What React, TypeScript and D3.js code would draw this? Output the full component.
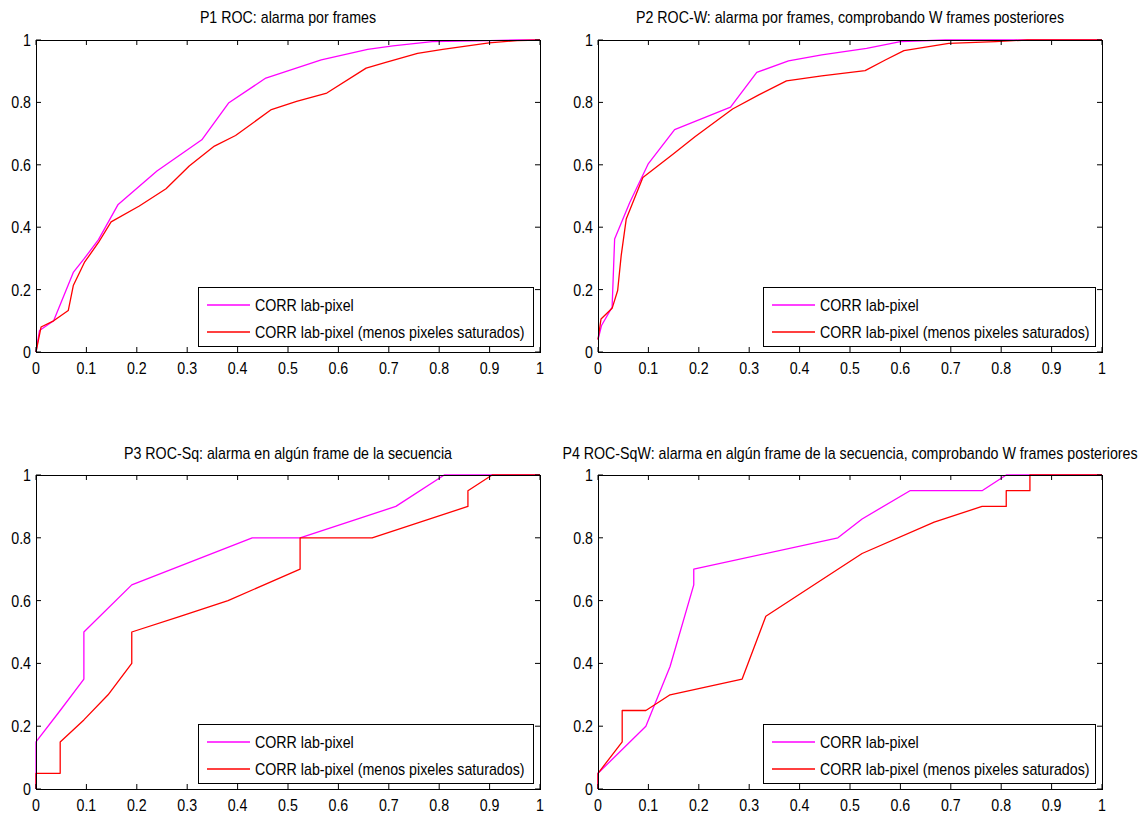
import React from "react";
import * as d3 from "d3";

// ---------- data ----------
const xTicks = [0, 0.1, 0.2, 0.3, 0.4, 0.5, 0.6, 0.7, 0.8, 0.9, 1];
const yTicks = [0, 0.2, 0.4, 0.6, 0.8, 1];
const xTickLabels = ["0", "0.1", "0.2", "0.3", "0.4", "0.5", "0.6", "0.7", "0.8", "0.9", "1"];
const yTickLabels = ["0", "0.2", "0.4", "0.6", "0.8", "1"];

const titles = [
  "P1 ROC: alarma por frames",
  "P2 ROC-W: alarma por frames, comprobando W frames posteriores",
  "P3 ROC-Sq: alarma en algún frame de la secuencia",
  "P4 ROC-SqW: alarma en algún frame de la secuencia, comprobando W frames posteriores",
];
const seriesNames = ["CORR lab-pixel", "CORR lab-pixel (menos pixeles saturados)"];
const seriesColors = ["#ff00ff", "#ff0000"];

// P1
const p1Corr: [number, number][] = [
  [0, 0], [0.007, 0.069], [0.035, 0.1], [0.074, 0.255], [0.096, 0.3], [0.124, 0.36],
  [0.163, 0.473], [0.24, 0.58], [0.329, 0.68], [0.382, 0.798], [0.456, 0.878],
  [0.566, 0.936], [0.658, 0.97], [0.708, 0.981], [0.786, 0.995], [0.9, 0.998], [0.955, 1], [1, 1],
];
const p1CorrSat: [number, number][] = [
  [0, 0], [0.01, 0.08], [0.035, 0.1], [0.064, 0.133], [0.074, 0.213], [0.096, 0.287],
  [0.124, 0.351], [0.149, 0.417], [0.205, 0.468], [0.258, 0.523], [0.304, 0.596],
  [0.354, 0.66], [0.396, 0.694], [0.467, 0.777], [0.517, 0.803], [0.577, 0.83],
  [0.655, 0.91], [0.694, 0.928], [0.757, 0.957], [0.807, 0.97], [0.899, 0.991],
  [0.955, 0.998], [1, 1],
];
// P2
const p2Corr: [number, number][] = [
  [0, 0.04], [0.007, 0.085], [0.028, 0.144], [0.033, 0.362], [0.063, 0.479], [0.1, 0.604],
  [0.152, 0.713], [0.263, 0.785], [0.315, 0.896], [0.378, 0.933], [0.444, 0.952],
  [0.533, 0.973], [0.6, 0.995], [0.689, 1], [1, 1],
];
const p2CorrSat: [number, number][] = [
  [0, 0.04], [0.006, 0.106], [0.028, 0.14], [0.039, 0.197], [0.046, 0.309], [0.056, 0.426],
  [0.089, 0.559], [0.148, 0.633], [0.193, 0.691], [0.267, 0.779], [0.319, 0.824],
  [0.374, 0.869], [0.444, 0.885], [0.53, 0.902], [0.57, 0.936], [0.607, 0.966],
  [0.696, 0.989], [0.789, 0.995], [0.852, 1], [1, 1],
];
// P3
const p3Corr: [number, number][] = [
  [0, 0], [0, 0.15], [0.048, 0.25], [0.095, 0.35], [0.095, 0.5], [0.19, 0.65],
  [0.429, 0.8], [0.524, 0.8], [0.714, 0.9], [0.81, 1], [1, 1],
];
const p3CorrSat: [number, number][] = [
  [0, 0], [0, 0.05], [0.048, 0.05], [0.048, 0.15], [0.095, 0.22], [0.143, 0.3],
  [0.19, 0.4], [0.19, 0.5], [0.286, 0.55], [0.381, 0.6], [0.524, 0.7], [0.524, 0.8],
  [0.667, 0.8], [0.857, 0.9], [0.857, 0.95], [0.905, 1], [1, 1],
];
// P4
const p4Corr: [number, number][] = [
  [0, 0], [0, 0.05], [0.095, 0.2], [0.143, 0.39], [0.19, 0.65], [0.19, 0.7],
  [0.476, 0.8], [0.524, 0.86], [0.619, 0.95], [0.762, 0.95], [0.81, 1], [1, 1],
];
const p4CorrSat: [number, number][] = [
  [0, 0], [0, 0.05], [0.024, 0.1], [0.048, 0.15], [0.048, 0.25], [0.095, 0.25],
  [0.143, 0.3], [0.286, 0.35], [0.333, 0.55], [0.39, 0.61], [0.476, 0.7],
  [0.524, 0.75], [0.667, 0.85], [0.762, 0.9], [0.81, 0.9], [0.81, 0.95],
  [0.857, 0.95], [0.857, 1], [1, 1],
];

const panelSeries = [
  [p1Corr, p1CorrSat],
  [p2Corr, p2CorrSat],
  [p3Corr, p3CorrSat],
  [p4Corr, p4CorrSat],
];

// ---------- layout ----------
const W = 1146;
const H = 814;
const panels = [
  { x0: 36, x1: 540, y0: 40, y1: 352, titleY: 23 },
  { x0: 598, x1: 1102, y0: 40, y1: 352, titleY: 23 },
  { x0: 36, x1: 540, y0: 475, y1: 789, titleY: 459 },
  { x0: 598, x1: 1102, y0: 475, y1: 789, titleY: 459 },
];
const FONT = "'Liberation Sans', Arial, sans-serif";
const FS = 16;
const SX = 0.89;
const TICK = 5;

function T({
  x,
  y,
  anchor = "start",
  children,
}: {
  x: number;
  y: number;
  anchor?: "start" | "middle" | "end";
  children: React.ReactNode;
}) {
  return (
    <text
      transform={`translate(${x},${y}) scale(${SX},1)`}
      textAnchor={anchor}
      fontFamily={FONT}
      fontSize={FS}
      fill="#000"
    >
      {children}
    </text>
  );
}

function Panel({ idx }: { idx: number }) {
  const p = panels[idx];
  const x = d3.scaleLinear().domain([0, 1]).range([p.x0, p.x1]);
  const y = d3.scaleLinear().domain([0, 1]).range([p.y1, p.y0]);
  const line = d3
    .line<[number, number]>()
    .x((d) => x(d[0]))
    .y((d) => y(d[1]));
  const legW = idx % 2 === 0 ? 335 : 332;
  const legH = 59;
  const legX = p.x1 - 7 - legW;
  const legY = p.y1 - 6 - legH;
  return (
    <g>
      <T x={(p.x0 + p.x1) / 2} y={p.titleY} anchor="middle">
        {titles[idx]}
      </T>
      <rect x={p.x0} y={p.y0} width={p.x1 - p.x0} height={p.y1 - p.y0} fill="#fff" />
      {panelSeries[idx].map((s, i) => (
        <path
          key={i}
          d={line(s) || ""}
          fill="none"
          stroke={seriesColors[i]}
          strokeWidth={1.3}
          strokeLinejoin="round"
        />
      ))}
      {/* ticks */}
      {xTicks.map((t, i) => (
        <g key={"x" + i}>
          <line x1={x(t)} x2={x(t)} y1={p.y1} y2={p.y1 - TICK} stroke="#000" strokeWidth={1} />
          <line x1={x(t)} x2={x(t)} y1={p.y0} y2={p.y0 + TICK} stroke="#000" strokeWidth={1} />
          <T x={x(t)} y={p.y1 + 22} anchor="middle">
            {xTickLabels[i]}
          </T>
        </g>
      ))}
      {yTicks.map((t, i) => (
        <g key={"y" + i}>
          <line x1={p.x0} x2={p.x0 + TICK} y1={y(t)} y2={y(t)} stroke="#000" strokeWidth={1} />
          <line x1={p.x1} x2={p.x1 - TICK} y1={y(t)} y2={y(t)} stroke="#000" strokeWidth={1} />
          <T x={p.x0 - 5} y={y(t) + 6} anchor="end">
            {yTickLabels[i]}
          </T>
        </g>
      ))}
      <rect
        x={p.x0 + 0.5}
        y={p.y0 + 0.5}
        width={p.x1 - p.x0}
        height={p.y1 - p.y0}
        fill="none"
        stroke="#000"
        strokeWidth={1}
      />
      {/* legend */}
      <rect
        x={legX + 0.5}
        y={legY + 0.5}
        width={legW}
        height={legH}
        fill="#fff"
        stroke="#000"
        strokeWidth={1}
      />
      {seriesNames.map((n, i) => {
        const cy = legY + 18 + i * 27;
        return (
          <g key={n}>
            <line
              x1={legX + 9}
              x2={legX + 52}
              y1={cy}
              y2={cy}
              stroke={seriesColors[i]}
              strokeWidth={1.3}
            />
            <T x={legX + 57} y={cy + 6}>
              {n}
            </T>
          </g>
        );
      })}
    </g>
  );
}

export default function App() {
  return (
    <svg
      width={W}
      height={H}
      viewBox={`0 0 ${W} ${H}`}
      style={{ position: "absolute", left: 0, top: 0, background: "#fff" }}
    >
      <rect x={0} y={0} width={W} height={H} fill="#fff" />
      {[0, 1, 2, 3].map((i) => (
        <Panel key={i} idx={i} />
      ))}
    </svg>
  );
}
